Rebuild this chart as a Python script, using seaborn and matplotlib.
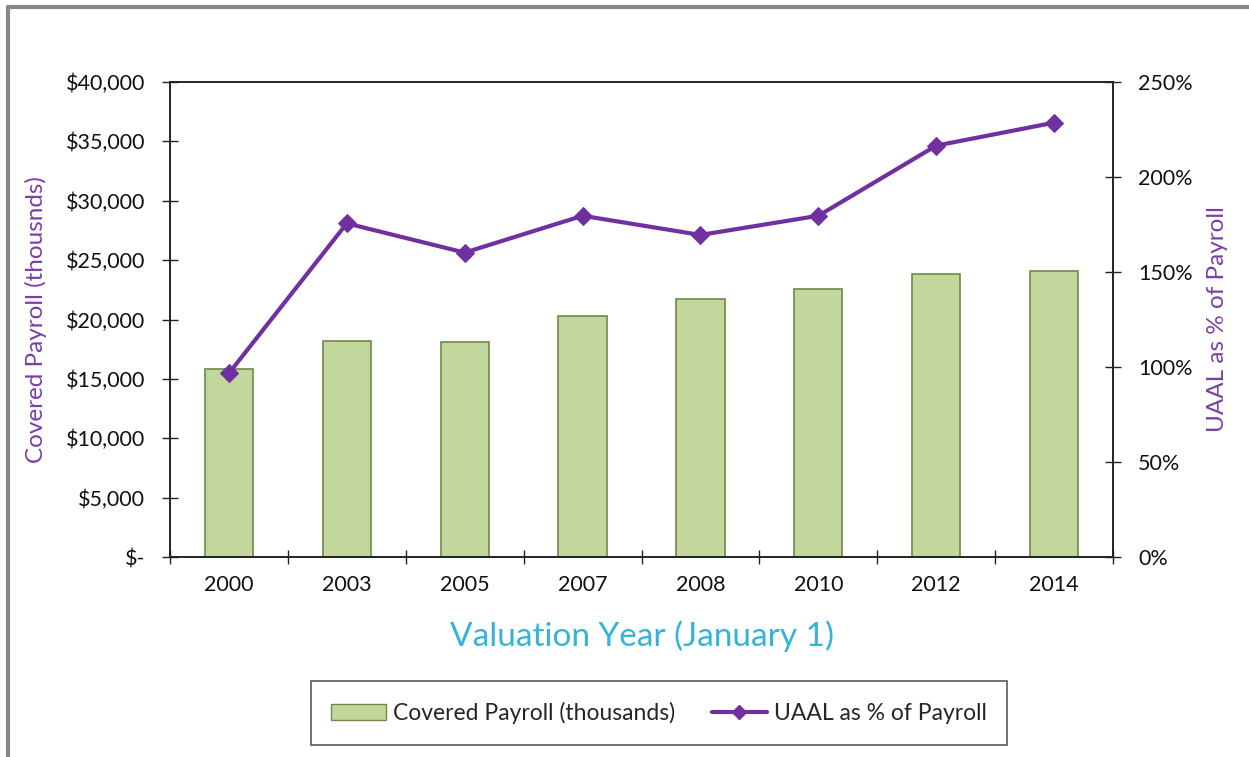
import matplotlib
matplotlib.use("Agg")
import matplotlib.pyplot as plt
from matplotlib.lines import Line2D
from matplotlib.patches import Patch
from matplotlib.ticker import FuncFormatter, FixedLocator
import seaborn as sns
import pandas as pd

years = ["2000", "2003", "2005", "2007", "2008", "2010", "2012", "2014"]
payroll = [15800, 18200, 18100, 20300, 21750, 22550, 23850, 24100]
uaal_pct = [96.7, 175.6, 160.2, 179.6, 169.5, 179.6, 216.5, 228.6]

df = pd.DataFrame({"year": years, "payroll": payroll, "uaal": uaal_pct})

sns.set_theme(style="white")
plt.rcParams["font.family"] = ["Lato", "DejaVu Sans"]

W, H = 1249, 757
fig = plt.figure(figsize=(W / 100, H / 100), dpi=100)
ax = fig.add_axes([170 / W, 1 - 557 / H, (1113 - 170) / W, (557 - 82) / H])

bar_color = "#C3D69B"
edge_color = "#6E8B47"
purple = "#7030A0"
label_purple = "#7B3FA8"

sns.barplot(data=df, x="year", y="payroll", ax=ax, color=bar_color,
            edgecolor=edge_color, linewidth=1.2, width=0.41, saturation=1)
ax.set_ylim(0, 40000)
ax.set_xlim(-0.5, len(years) - 0.5)
ax.set_yticks(range(0, 40001, 5000))
ax.yaxis.set_major_formatter(FuncFormatter(lambda v, p: "$-" if v == 0 else f"${v:,.0f}"))
ax.set_xticks(range(len(years)))
ax.set_xticklabels(years)
ax.xaxis.set_minor_locator(FixedLocator([i - 0.5 for i in range(len(years) + 1)]))
ax.tick_params(axis="x", which="major", length=0, labelsize=15.5, pad=13, colors="#111111")
ax.tick_params(axis="x", which="minor", direction="inout", length=10, width=1, color="#222222", bottom=True)
ax.tick_params(axis="y", direction="inout", length=12, width=1, color="#222222",
               labelsize=15.5, pad=12, left=True, labelcolor="#111111")
ax.set_xlabel("Valuation Year (January 1)", fontsize=24, color="#35B3DA", labelpad=18)
ax.set_ylabel("Covered Payroll (thousnds)", fontsize=17.5, color=label_purple, labelpad=13)
for s in ax.spines.values():
    s.set_color("#222222")
    s.set_linewidth(1.2)

ax2 = ax.twinx()
sns.lineplot(data=df, x="year", y="uaal", ax=ax2, color=purple, linewidth=3,
             marker="D", markersize=9, markeredgecolor=purple, sort=False)
ax2.set_ylim(0, 250)
ax2.set_xlim(-0.5, len(years) - 0.5)
ax2.set_yticks(range(0, 251, 50))
ax2.yaxis.set_major_formatter(FuncFormatter(lambda v, p: f"{v:.0f}%"))
ax2.tick_params(axis="y", direction="inout", length=12, width=1, color="#222222",
                labelsize=15.5, pad=12, right=True, labelcolor="#111111")
ax2.set_ylabel("UAAL as % of Payroll", fontsize=17.5, color=label_purple, labelpad=10)
for s in ax2.spines.values():
    s.set_color("#222222")
    s.set_linewidth(1.2)

handles = [Patch(facecolor=bar_color, edgecolor=edge_color, label="Covered Payroll (thousands)"),
           Line2D([0], [0], color=purple, lw=3, marker="D", markersize=7, label="UAAL as % of Payroll")]
leg = fig.legend(handles=handles, loc="center", bbox_to_anchor=(659 / W, 1 - 713 / H),
                 ncol=2, frameon=True, fancybox=False, fontsize=16.5, handlelength=2.4,
                 columnspacing=1.6, borderpad=0.9, handletextpad=0.3, borderaxespad=0)
leg.get_frame().set_edgecolor("#333333")
leg.get_frame().set_linewidth(1.2)

fig.add_artist(Line2D([8 / W, 8 / W], [0, 1 - 7 / H], color="#888888", lw=3, transform=fig.transFigure))
fig.add_artist(Line2D([8 / W, 1], [1 - 7 / H, 1 - 7 / H], color="#888888", lw=3, transform=fig.transFigure))

fig.savefig("out.png", dpi=100, facecolor="white")
